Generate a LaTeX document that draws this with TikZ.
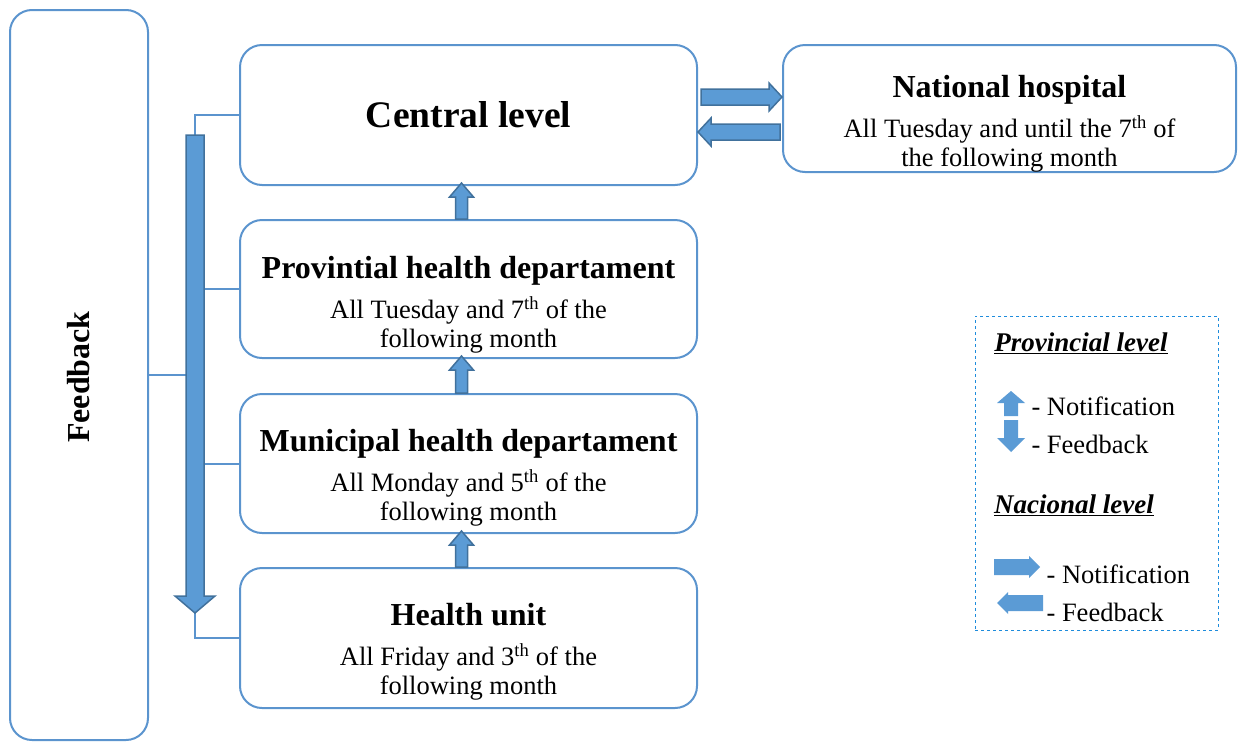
\documentclass[tikz,border=0pt]{standalone}
\usepackage{fontspec}
\setmainfont{Liberation Serif}
\usetikzlibrary{calc}

\definecolor{boxline}{RGB}{91,148,206}
\definecolor{arrowblue}{RGB}{91,155,213}
\definecolor{arrowedge}{RGB}{65,113,156}
\definecolor{legendline}{RGB}{30,140,220}

\newcommand\headfont{\fontsize{32}{36}\selectfont\bfseries}
\newcommand\bodyfont{\fontsize{26.5}{29}\selectfont}

% block arrow: [opts]{tail}{tip}{shaft half width}{head half width}{head length}
\newcommand\blockarrow[6][]{%
  \coordinate (ba-h) at ($(#3)!#6!(#2)$);
  \draw[block arrow,#1] ($(#2)!#4!90:(#3)$) -- ($(ba-h)!#4!90:(#3)$)
    -- ($(ba-h)!#5!90:(#3)$) -- (#3) -- ($(ba-h)!#5!-90:(#3)$)
    -- ($(ba-h)!#4!-90:(#3)$) -- ($(#2)!#4!-90:(#3)$) -- cycle;}

\begin{document}
\begin{tikzpicture}[x=1pt,y=-1pt,
  level box/.style={draw=boxline,line width=2pt,rounded corners=22pt,minimum width=457pt,inner sep=0pt},
  box text/.style={align=center,font=\bodyfont,inner sep=0pt,anchor=north},
  block arrow/.style={draw=arrowedge,fill=arrowblue,line width=1.5pt,line join=miter},
  link/.style={draw=boxline,line width=2pt}]
  \useasboundingbox (0,0) rectangle (1238,742);

  % boxes
  \node[level box,minimum width=138pt,minimum height=730pt] (feedback) at (79,375) {};
  \node[rotate=90,font=\fontsize{32}{36}\selectfont\bfseries] (feedbacktxt) at ([yshift=-2pt]feedback.center) {Feedback};

  \node[level box,minimum height=140pt] (central) at (468.5,115) {};
  \node[font=\fontsize{37.5}{40}\selectfont\bfseries] (centraltxt) at (central.center) {Central level};

  \node[level box,minimum width=453pt,minimum height=127pt] (national) at (1009.5,108.5) {};
  \node[box text] (nationaltxt) at ([yshift=-31pt]national.north)
    {{\headfont National hospital}\\[11pt]All Tuesday and until the 7\textsuperscript{th} of\\the following month};

  \node[level box,minimum height=138pt] (prov) at (468.5,289) {};
  \node[box text] (provtxt) at ([yshift=-37pt]prov.north)
    {{\headfont Provintial health departament}\\[11pt]All Tuesday and 7\textsuperscript{th} of the\\following month};

  \node[level box,minimum height=139pt] (muni) at (468.5,463.5) {};
  \node[box text] (munitxt) at ([yshift=-36pt]muni.north)
    {{\headfont Municipal health departament}\\[11pt]All Monday and 5\textsuperscript{th} of the\\following month};

  \node[level box,minimum height=140pt] (health) at (468.5,638) {};
  \node[box text] (healthtxt) at ([yshift=-36pt]health.north)
    {{\headfont Health unit}\\[11pt]All Friday and 3\textsuperscript{th} of the\\following month};

  % feedback links
  \coordinate (fbtop) at (195,135);
  \coordinate (fbtip) at (195,613);
  \draw[link] (central.west) -| (fbtop);
  \draw[link] (prov.west) -- (prov.west -| fbtop);
  \draw[link] (muni.west) -- (muni.west -| fbtop);
  \draw[link] (feedback.east) -- (feedback.east -| fbtop);
  \draw[link] (health.west) -| (fbtip);
  \blockarrow{fbtop}{fbtip}{9pt}{20pt}{17pt}

  % notification arrows
  \blockarrow{[xshift=-7pt]prov.north}{[xshift=-7pt,yshift=3pt]central.south}{6pt}{12pt}{14pt}
  \blockarrow{[xshift=-7pt]muni.north}{[xshift=-7pt,yshift=3pt]prov.south}{6pt}{12pt}{14pt}
  \blockarrow{[xshift=-7pt]health.north}{[xshift=-7pt,yshift=3pt]muni.south}{6pt}{12pt}{14pt}

  \coordinate (nottail) at ($(central.east)+(3,-18)$);
  \coordinate (fbktail) at ($(national.west)+(-2,23.5)$);
  \blockarrow{nottail}{nottail -| national.west}{8pt}{14pt}{13pt}
  \blockarrow{fbktail}{fbktail -| central.east}{8pt}{14pt}{13pt}

  % legend
  \node[draw=legendline,dashed,line width=1pt,minimum width=243pt,minimum height=314pt] (legend) at (1096.5,473) {};
  \node[font=\fontsize{27}{30}\selectfont\bfseries\itshape] (provlevel) at (1081,343) {\underline{Provincial level}};
  \node[font=\fontsize{27}{30}\selectfont\bfseries\itshape] (naclevel) at (1074,505) {\underline{Nacional level}};
  \coordinate (upa) at (1011,416);   \coordinate (upb) at (1011,391);
  \coordinate (dna) at (1011,420);   \coordinate (dnb) at (1011,452);
  \coordinate (rta) at (994,567);    \coordinate (rtb) at (1040,567);
  \coordinate (lfa) at (1043,603);   \coordinate (lfb) at (997,603);
  \blockarrow[draw=none]{upa}{upb}{7pt}{14pt}{12pt}
  \blockarrow[draw=none]{dna}{dnb}{7pt}{14pt}{14pt}
  \blockarrow[draw=none]{rta}{rtb}{8pt}{11pt}{11pt}
  \blockarrow[draw=none]{lfa}{lfb}{8pt}{11pt}{11pt}
  \node[font=\bodyfont,anchor=west] (provnot) at (1028,406) {- Notification};
  \node[font=\bodyfont,anchor=west] (provfb) at (1028,444) {- Feedback};
  \node[font=\bodyfont,anchor=west] (nacnot) at (1043,574) {- Notification};
  \node[font=\bodyfont,anchor=west] (nacfb) at (1043,612) {- Feedback};
\end{tikzpicture}
\end{document}
